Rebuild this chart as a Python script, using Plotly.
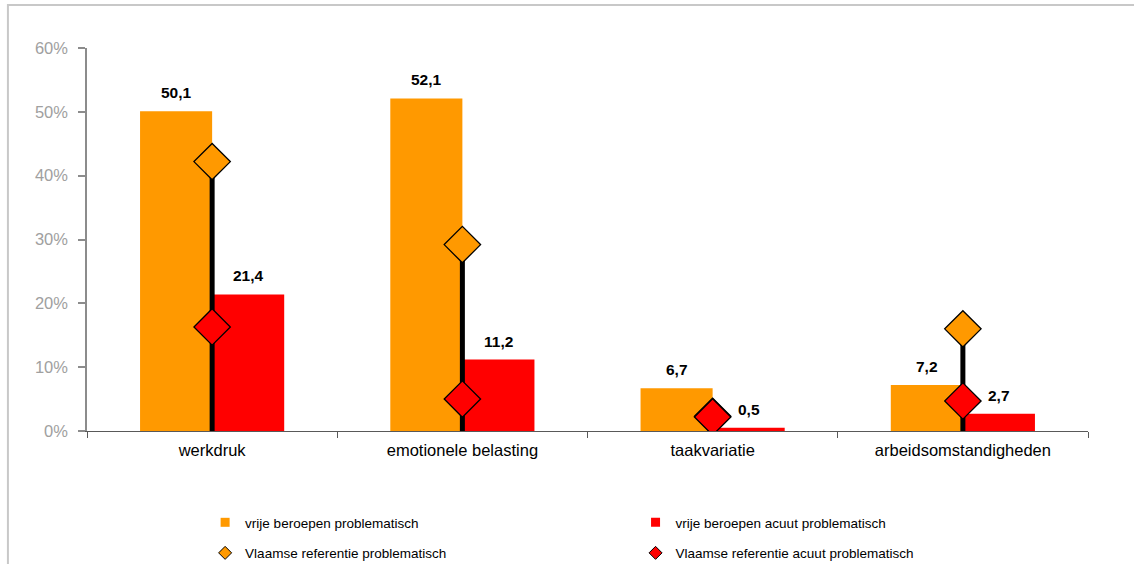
import plotly.graph_objects as go

# Werkbeleving: vrije beroepen vs. Vlaamse referentie
categories = ["werkdruk", "emotionele belasting", "taakvariatie", "arbeidsomstandigheden"]
vb_problematisch = [50.1, 52.1, 6.7, 7.2]
vb_acuut = [21.4, 11.2, 0.5, 2.7]
ref_problematisch = [42.2, 29.2, 2.3, 16.0]
ref_acuut = [16.3, 5.0, 2.2, 4.7]
y_ticks = [0, 10, 20, 30, 40, 50, 60]

ORANGE = "#FF9900"
RED = "#FF0000"
FONT = "Liberation Sans, Arial, sans-serif"

fig = go.Figure()

fig.add_trace(go.Bar(
    x=categories, y=[v / 100 for v in vb_problematisch],
    name="vrije beroepen problematisch", marker_color=ORANGE, marker_line_width=0,
    showlegend=False,
))
fig.add_trace(go.Bar(
    x=categories, y=[v / 100 for v in vb_acuut],
    name="vrije beroepen acuut problematisch", marker_color=RED, marker_line_width=0,
    showlegend=False,
))

# vertical drop line from the highest reference value to the baseline
lx, ly = [], []
for c, a, b in zip(categories, ref_problematisch, ref_acuut):
    lx += [c, c, None]
    ly += [0, max(a, b) / 100, None]
fig.add_trace(go.Scatter(
    x=lx, y=ly, mode="lines", line=dict(color="black", width=5),
    showlegend=False, hoverinfo="skip",
))

fig.add_trace(go.Scatter(
    x=categories, y=[v / 100 for v in ref_problematisch], mode="markers",
    name="Vlaamse referentie problematisch", showlegend=False,
    marker=dict(symbol="diamond", size=28, color=ORANGE, line=dict(color="black", width=1.3)),
))
fig.add_trace(go.Scatter(
    x=categories, y=[v / 100 for v in ref_acuut], mode="markers",
    name="Vlaamse referentie acuut problematisch", showlegend=False,
    marker=dict(symbol="diamond", size=28, color=RED, line=dict(color="black", width=1.3)),
))

# compact legend keys (two columns)
legend_keys = [
    ("vrije beroepen problematisch", "square", ORANGE, 0, "legend", "a"),
    ("Vlaamse referentie problematisch", "diamond", ORANGE, 1, "legend", "b"),
    ("vrije beroepen acuut problematisch", "square", RED, 0, "legend2", "c"),
    ("Vlaamse referentie acuut problematisch", "diamond", RED, 1, "legend2", "d"),
]
for name, sym, col, lw, leg, grp in legend_keys:
    fig.add_trace(go.Scatter(
        x=[None], y=[None], mode="markers", name=name, legend=leg, legendgroup=grp,
        marker=dict(symbol=sym, size=9 if sym == "square" else 10, color=col,
                    line=dict(color="black", width=lw)),
    ))

# value labels above the bars
for series, shift in ((vb_problematisch, -36), (vb_acuut, 36)):
    for c, v in zip(categories, series):
        fig.add_annotation(
            x=c, y=v / 100, xref="x", yref="y", xshift=shift, yshift=8,
            text=f"{v:.1f}".replace(".", ","), showarrow=False, yanchor="bottom",
            font=dict(family=FONT, size=15.5, color="black", weight="bold"),
        )

# outer frame
fig.add_shape(type="rect", xref="paper", yref="paper",
              x0=-0.079, x1=1.2, y0=-0.6, y1=1.112,
              line=dict(color="#C8C8C8", width=2), fillcolor="rgba(0,0,0,0)", layer="below")

legend_common = dict(
    orientation="v", xanchor="left", yanchor="top", yref="container", itemsizing="trace",
    tracegroupgap=10, font=dict(family=FONT, size=13.5, color="black"),
    bgcolor="rgba(0,0,0,0)", borderwidth=0,
)

fig.update_layout(
    width=1134, height=564,
    margin=dict(l=87, r=46, t=48, b=133),
    paper_bgcolor="white", plot_bgcolor="white",
    barmode="group", bargap=0.424, bargroupgap=0,
    font=dict(family=FONT, size=16, color="black"),
    xaxis=dict(
        type="category", categoryorder="array", categoryarray=categories,
        range=[-0.5, 3.5], showline=True, linecolor="#595959", linewidth=1.3,
        ticks="outside", tickson="boundaries", ticklen=6, tickcolor="#595959", tickwidth=1.3,
        ticklabelstandoff=4,
        tickfont=dict(family=FONT, size=16.5, color="black"), showgrid=False, zeroline=False,
    ),
    xaxis2=dict(
        overlaying="x", range=[-0.5, 3.5], tickvals=[-0.5, 0.5, 1.5, 2.5, 3.5],
        ticks="inside", ticklen=6, tickcolor="#595959", tickwidth=1.3,
        showticklabels=False, showgrid=False, zeroline=False, showline=False,
    ),
    yaxis=dict(
        range=[0, 0.6], tickvals=[t / 100 for t in y_ticks], tickformat=".0%",
        showline=True, linecolor="#8C8C8C", linewidth=1.5,
        ticks="outside", ticklen=7, tickcolor="#8C8C8C", tickwidth=1.5,
        ticklabelstandoff=7,
        tickfont=dict(family=FONT, size=16.5, color="#A0A0A0"), showgrid=False, zeroline=False,
    ),
    yaxis2=dict(
        overlaying="y", range=[0, 0.6], tickvals=[t / 100 for t in y_ticks],
        ticks="inside", ticklen=5, tickcolor="#8C8C8C", tickwidth=1.5,
        showticklabels=False, showgrid=False, zeroline=False, showline=False,
    ),
    legend=dict(x=0.118, y=0.101, **legend_common),
    legend2=dict(x=0.548, y=0.101, **legend_common),
    showlegend=True,
)

fig.write_html("out.html")
